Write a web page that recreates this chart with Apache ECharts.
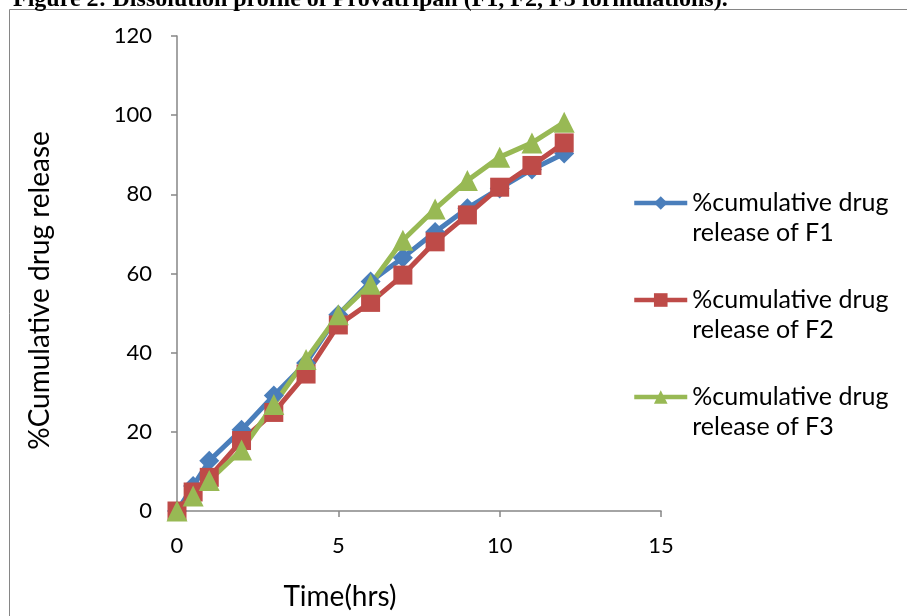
<!DOCTYPE html>
<html>
<head>
<meta charset="utf-8">
<script src="https://cdn.jsdelivr.net/npm/echarts@6/dist/echarts.min.js"></script>
<style>
html,body{margin:0;padding:0;background:#fff;}
#chart{width:907px;height:616px;}
</style>
</head>
<body>
<div id="chart"></div>
<script>
var titleText = 'Figure 2: Dissolution profile of Provatripan (F1, F2, F3 formulations).';
var timeHrs = [0, 0.5, 1, 2, 3, 4, 5, 6, 7, 8, 9, 10, 11, 12];
var releaseF1 = [0, 6.3, 12.7, 20.5, 29.2, 37.4, 49.6, 58, 64, 70.5, 76.5, 81.5, 86.3, 90.3];
var releaseF2 = [0, 4.8, 8.5, 17.8, 24.9, 34.6, 47, 52.7, 59.6, 68, 74.8, 81.8, 87.3, 93];
var releaseF3 = [0, 3.8, 7.7, 15.4, 26.9, 38.3, 49.6, 57.3, 68.4, 76.3, 83.5, 89.4, 93, 98.2];
var seriesNames = ['%cumulative drug\nrelease of F1', '%cumulative drug\nrelease of F2', '%cumulative drug\nrelease of F3'];
var xAxisTitle = 'Time(hrs)';
var yAxisTitle = '%Cumulative drug release';

function pairs(xs, ys){ return xs.map(function(x,i){ return [x, ys[i]]; }); }

var FONT = 'Lato';
var axisGray = '#868686';
var chart = echarts.init(document.getElementById('chart'));
chart.setOption({
  animation: false,
  backgroundColor: '#fff',
  title: {
    text: titleText,
    left: 8, top: -17,
    textStyle: {fontFamily: 'Liberation Serif', fontWeight: 'bold', fontSize: 24, color: '#000'}
  },
  graphic: [{
    type: 'rect', silent: true, z: -1,
    shape: {x: 9.5, y: 9.5, width: 1000, height: 1000},
    style: {fill: 'none', stroke: axisGray, lineWidth: 1}
  }],
  grid: {left: 177, top: 36, width: 484, height: 478, containLabel: false},
  xAxis: {
    type: 'value', min: 0, max: 15, interval: 5,
    name: xAxisTitle, nameLocation: 'middle', nameGap: 72,
    nameTextStyle: {fontFamily: FONT, fontSize: 28, color: '#000', padding: [0, 158, 0, 0]},
    axisLine: {show: true, lineStyle: {color: axisGray, width: 1.5}},
    axisTick: {show: true, length: 6, lineStyle: {color: axisGray, width: 1.5}},
    axisLabel: {margin: 24, fontFamily: FONT, fontSize: 22, color: '#000'},
    splitLine: {show: false}
  },
  yAxis: {
    type: 'value', min: 0, max: 120, interval: 20,
    name: yAxisTitle, nameLocation: 'middle', nameGap: 123,
    nameTextStyle: {fontFamily: FONT, fontSize: 28, color: '#000', padding: [0, 34, 0, 0]},
    axisLine: {show: true, lineStyle: {color: axisGray, width: 1.5}},
    axisTick: {show: true, length: 6, lineStyle: {color: axisGray, width: 1.5}},
    axisLabel: {margin: 25, fontFamily: FONT, fontSize: 22, color: '#000'},
    splitLine: {show: false}
  },
  legend: {
    orient: 'vertical', left: 632, top: 158, padding: 0,
    itemWidth: 53, itemHeight: 17, itemGap: 7,
    data: seriesNames,
    lineStyle: {width: 4.5},
    formatter: function(name){ return '\n' + name; },
    textStyle: {fontFamily: FONT, fontSize: 25, color: '#000', lineHeight: 30}
  },
  series: [
    {name: seriesNames[0], type: 'line', data: pairs(timeHrs, releaseF1),
     symbol: 'diamond', symbolSize: 20, color: '#4A7EBB',
     lineStyle: {width: 5}, itemStyle: {color: '#4A7EBB'}},
    {name: seriesNames[1], type: 'line', data: pairs(timeHrs, releaseF2),
     symbol: 'rect', symbolSize: 19, color: '#BE4B48',
     lineStyle: {width: 5}, itemStyle: {color: '#BE4B48'}},
    {name: seriesNames[2], type: 'line', data: pairs(timeHrs, releaseF3),
     symbol: 'triangle', symbolSize: 21, color: '#98B954',
     lineStyle: {width: 5}, itemStyle: {color: '#98B954'}}
  ]
});
</script>
</body>
</html>
